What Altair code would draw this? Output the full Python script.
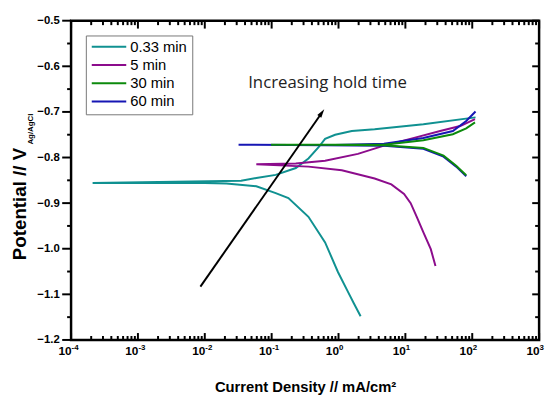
import altair as alt
import pandas as pd

# ---------------- data ----------------
series = ["0.33 min", "5 min", "30 min", "60 min"]
colors = ["#109191", "#8c0c8c", "#0c8a0c", "#1616b4"]

# 0.33 min
t_cath_x = [2.1e-4, 1e-3, 1e-2, 0.021, 0.059, 0.115, 0.178, 0.355, 0.63, 0.98, 1.38, 1.7, 2.14]
t_cath_y = [-0.856, -0.856, -0.856, -0.857, -0.863, -0.878, -0.889, -0.930, -0.986, -1.051, -1.094, -1.120, -1.148]
t_an_x = [0.021, 0.035, 0.059, 0.115, 0.23, 0.355, 0.50, 0.63, 0.89, 1.58, 3.47, 18.6, 112]
t_an_y = [-0.855, -0.851, -0.845, -0.838, -0.823, -0.802, -0.778, -0.759, -0.750, -0.742, -0.738, -0.727, -0.712]

# 5 min
p_cath_x = [0.059, 0.355, 1.12, 3.47, 6.17, 9.55, 12.0, 14.8, 18.6, 24.0, 28.2]
p_cath_y = [-0.815, -0.820, -0.828, -0.846, -0.859, -0.880, -0.900, -0.930, -0.964, -1.001, -1.038]
p_an_x = [0.059, 0.23, 0.63, 1.95, 4.79, 13.5, 33.1, 66.1, 110]
p_an_y = [-0.815, -0.813, -0.807, -0.792, -0.774, -0.757, -0.742, -0.731, -0.716]

# 60 min
b_cath_x = [0.032, 0.63, 4.79, 18.6, 37.2, 57.5, 81.3]
b_cath_y = [-0.772, -0.773, -0.774, -0.781, -0.798, -0.820, -0.841]
b_an_x = [0.032, 0.63, 4.79, 18.6, 51.3, 81.3, 112]
b_an_y = [-0.772, -0.773, -0.770, -0.757, -0.742, -0.720, -0.699]

# 30 min
g_cath_x = [0.098, 0.63, 4.79, 18.6, 37.2, 57.5, 81.3]
g_cath_y = [-0.772, -0.772, -0.773, -0.779, -0.796, -0.818, -0.839]
g_an_x = [0.098, 0.63, 4.79, 18.6, 51.3, 81.3, 110]
g_an_y = [-0.772, -0.772, -0.772, -0.762, -0.749, -0.736, -0.723]

# annotation
note_text = ["Increasing hold time"]
note_x = [0.686]
note_y = [-0.647]
arrow_x = [0.0086]
arrow_y = [-1.083]
arrow_x2 = [0.55]
arrow_y2 = [-0.704]

# ticks
x_major = [1e-4, 1e-3, 1e-2, 1e-1, 1e0, 1e1, 1e2, 1e3]
x_minor = [m * 10.0 ** k for k in range(-4, 3) for m in range(2, 10)]
y_major = [-1.2, -1.1, -1.0, -0.9, -0.8, -0.7, -0.6, -0.5]
y_minor = [-1.15, -1.05, -0.95, -0.85, -0.75, -0.65, -0.55]

# ---------------- build table ----------------
rows = []
def add(name, cx, cy, ax, ay):
    pts = list(zip(cx, cy))[::-1] + list(zip(ax, ay))[1:]
    for i, (x, y) in enumerate(pts):
        rows.append({"series": name, "i": i, "j": x, "E": y})

add("0.33 min", t_cath_x, t_cath_y, t_an_x, t_an_y)
add("5 min", p_cath_x, p_cath_y, p_an_x, p_an_y)
add("60 min", b_cath_x, b_cath_y, b_an_x, b_an_y)
add("30 min", g_cath_x, g_cath_y, g_an_x, g_an_y)
df = pd.DataFrame(rows)

W, H = 475, 324
FONT = "Liberation Sans"

xs = alt.Scale(type="log", domain=[1e-4, 1e3], nice=False)
ys = alt.Scale(domain=[-1.2, -0.5], nice=False, zero=False)

exp_expr = ("datum.value < 5e-4 ? '-4' : datum.value < 5e-3 ? '-3' : "
            "datum.value < 5e-2 ? '-2' : datum.value < 0.5 ? '-1' : "
            "datum.value < 5 ? '0' : datum.value < 50 ? '1' : "
            "datum.value < 500 ? '2' : '3'")

# bottom labels: base "10" + exponent
x_base_axis = alt.Axis(orient="bottom", values=x_major, labelExpr="'10'", ticks=False,
                       domain=False, grid=False, labelFont=FONT, labelFontWeight="bold",
                       labelFontSize=12, labelColor="black", labelPadding=6,
                       labelFlush=False, labelOverlap=False, labelAlign="right",
                       title="Current Density // mA/cm²", titleFont=FONT,
                       titleFontSize=15, titleFontWeight="bold", titleColor="black",
                       titleBaseline="alphabetic", titleY=52)
x_exp_axis = alt.Axis(orient="bottom", values=x_major, labelExpr=exp_expr, ticks=False,
                      domain=False, grid=False, labelFont=FONT, labelFontWeight="bold",
                      labelFontSize=8, labelColor="black", labelPadding=4,
                      labelFlush=False, labelOverlap=False, labelAlign="left",
                      title=None)
y_main_axis = alt.Axis(orient="left", values=y_major, format=".1f", ticks=False,
                       domain=False, grid=False, labelFont=FONT, labelFontWeight="bold",
                       labelFontSize=11.5, labelColor="black", labelPadding=12,
                       labelOverlap=False, title=None)

lines = alt.Chart(df).mark_line(strokeWidth=2).encode(
    x=alt.X("j:Q", scale=xs, axis=x_base_axis),
    y=alt.Y("E:Q", scale=ys, axis=y_main_axis),
    color=alt.Color("series:N", scale=alt.Scale(domain=series, range=colors),
                    legend=alt.Legend(orient="none", legendX=15, legendY=15, title=None,
                                      symbolType="stroke", symbolSize=1225,
                                      symbolStrokeWidth=2, clipHeight=13,
                                      labelFont=FONT, labelFontSize=15, labelColor="black",
                                      labelOffset=3, rowPadding=2.5, padding=5,
                                      strokeColor="#777777", fillColor="white")),
    order="i:Q",
    detail="series:N",
)

arrow_df = pd.DataFrame({"x": arrow_x, "y": arrow_y, "x2": arrow_x2, "y2": arrow_y2})

exp_layer = alt.Chart(arrow_df).mark_point(opacity=0).encode(
    x=alt.X("x:Q", scale=xs, axis=x_exp_axis),
    y=alt.Y("y:Q", scale=ys, axis=None),
)

# tick marks placed with the chart's own scales
xmaj_df = pd.DataFrame({"v": x_major})
xmin_df = pd.DataFrame({"v": x_minor})
ymaj_df = pd.DataFrame({"v": y_major})
ymin_df = pd.DataFrame({"v": y_minor})


def xticks(d, y0, y1):
    return alt.Chart(d).mark_rule(color="#000000", strokeWidth=2).encode(
        x=alt.X("v:Q", scale=xs, axis=None), y=alt.value(y0), y2=alt.value(y1))


def yticks(d, x0, x1):
    return alt.Chart(d).mark_rule(color="#000000", strokeWidth=2).encode(
        y=alt.Y("v:Q", scale=ys, axis=None), x=alt.value(x0), x2=alt.value(x1))


tick_layers = [
    xticks(xmaj_df, H - 7, H), xticks(xmin_df, H - 4, H),
    xticks(xmaj_df, 0, 8), xticks(xmin_df, 0, 4.5),
    yticks(ymaj_df, -9, 0), yticks(ymin_df, -4, 0),
    yticks(ymaj_df, W - 7, W), yticks(ymin_df, W - 4, W),
]

arrow = alt.Chart(arrow_df).mark_rule(color="black", strokeWidth=2).encode(
    x=alt.X("x:Q", scale=xs, axis=None),
    y=alt.Y("y:Q", scale=ys, axis=None),
    x2="x2:Q", y2="y2:Q",
)
head = alt.Chart(arrow_df).mark_point(
    shape="M0,-1L0.45,0.6L-0.45,0.6Z", filled=True, color="black", opacity=1,
    size=120, angle=35,
).encode(
    x=alt.X("x2:Q", scale=xs, axis=None),
    y=alt.Y("y2:Q", scale=ys, axis=None),
)

note_df = pd.DataFrame({"t": note_text, "x": note_x, "y": note_y})
note = alt.Chart(note_df).mark_text(font="Open Sans", fontSize=17, color="#222222",
                                    align="center", baseline="alphabetic").encode(
    x=alt.X("x:Q", scale=xs, axis=None),
    y=alt.Y("y:Q", scale=ys, axis=None),
    text="t:N",
)

ytitle = alt.Chart(pd.DataFrame({"t": ["Potential // V"]})).mark_text(
    font=FONT, fontSize=19, fontWeight="bold", color="black", angle=270,
    align="center", baseline="middle",
).encode(x=alt.value(-52), y=alt.value(186), text="t:N")
ysub = alt.Chart(pd.DataFrame({"t": ["Ag/AgCl"]})).mark_text(
    font=FONT, fontSize=8, fontWeight="bold", color="black", angle=270,
    align="center", baseline="middle",
).encode(x=alt.value(-41), y=alt.value(110), text="t:N")

chart = alt.layer(lines, exp_layer, arrow, head, note, ytitle, ysub, *tick_layers).resolve_axis(
    x="independent", y="independent"
).properties(
    width=W, height=H,
    autosize=alt.AutoSizeParams(type="none"),
    padding={"left": 64, "top": 10, "right": 7, "bottom": 54},
    background="white",
).configure_view(stroke="black", strokeWidth=2.5)

chart.save("out.html", embed_options={"renderer": "svg", "actions": False})
